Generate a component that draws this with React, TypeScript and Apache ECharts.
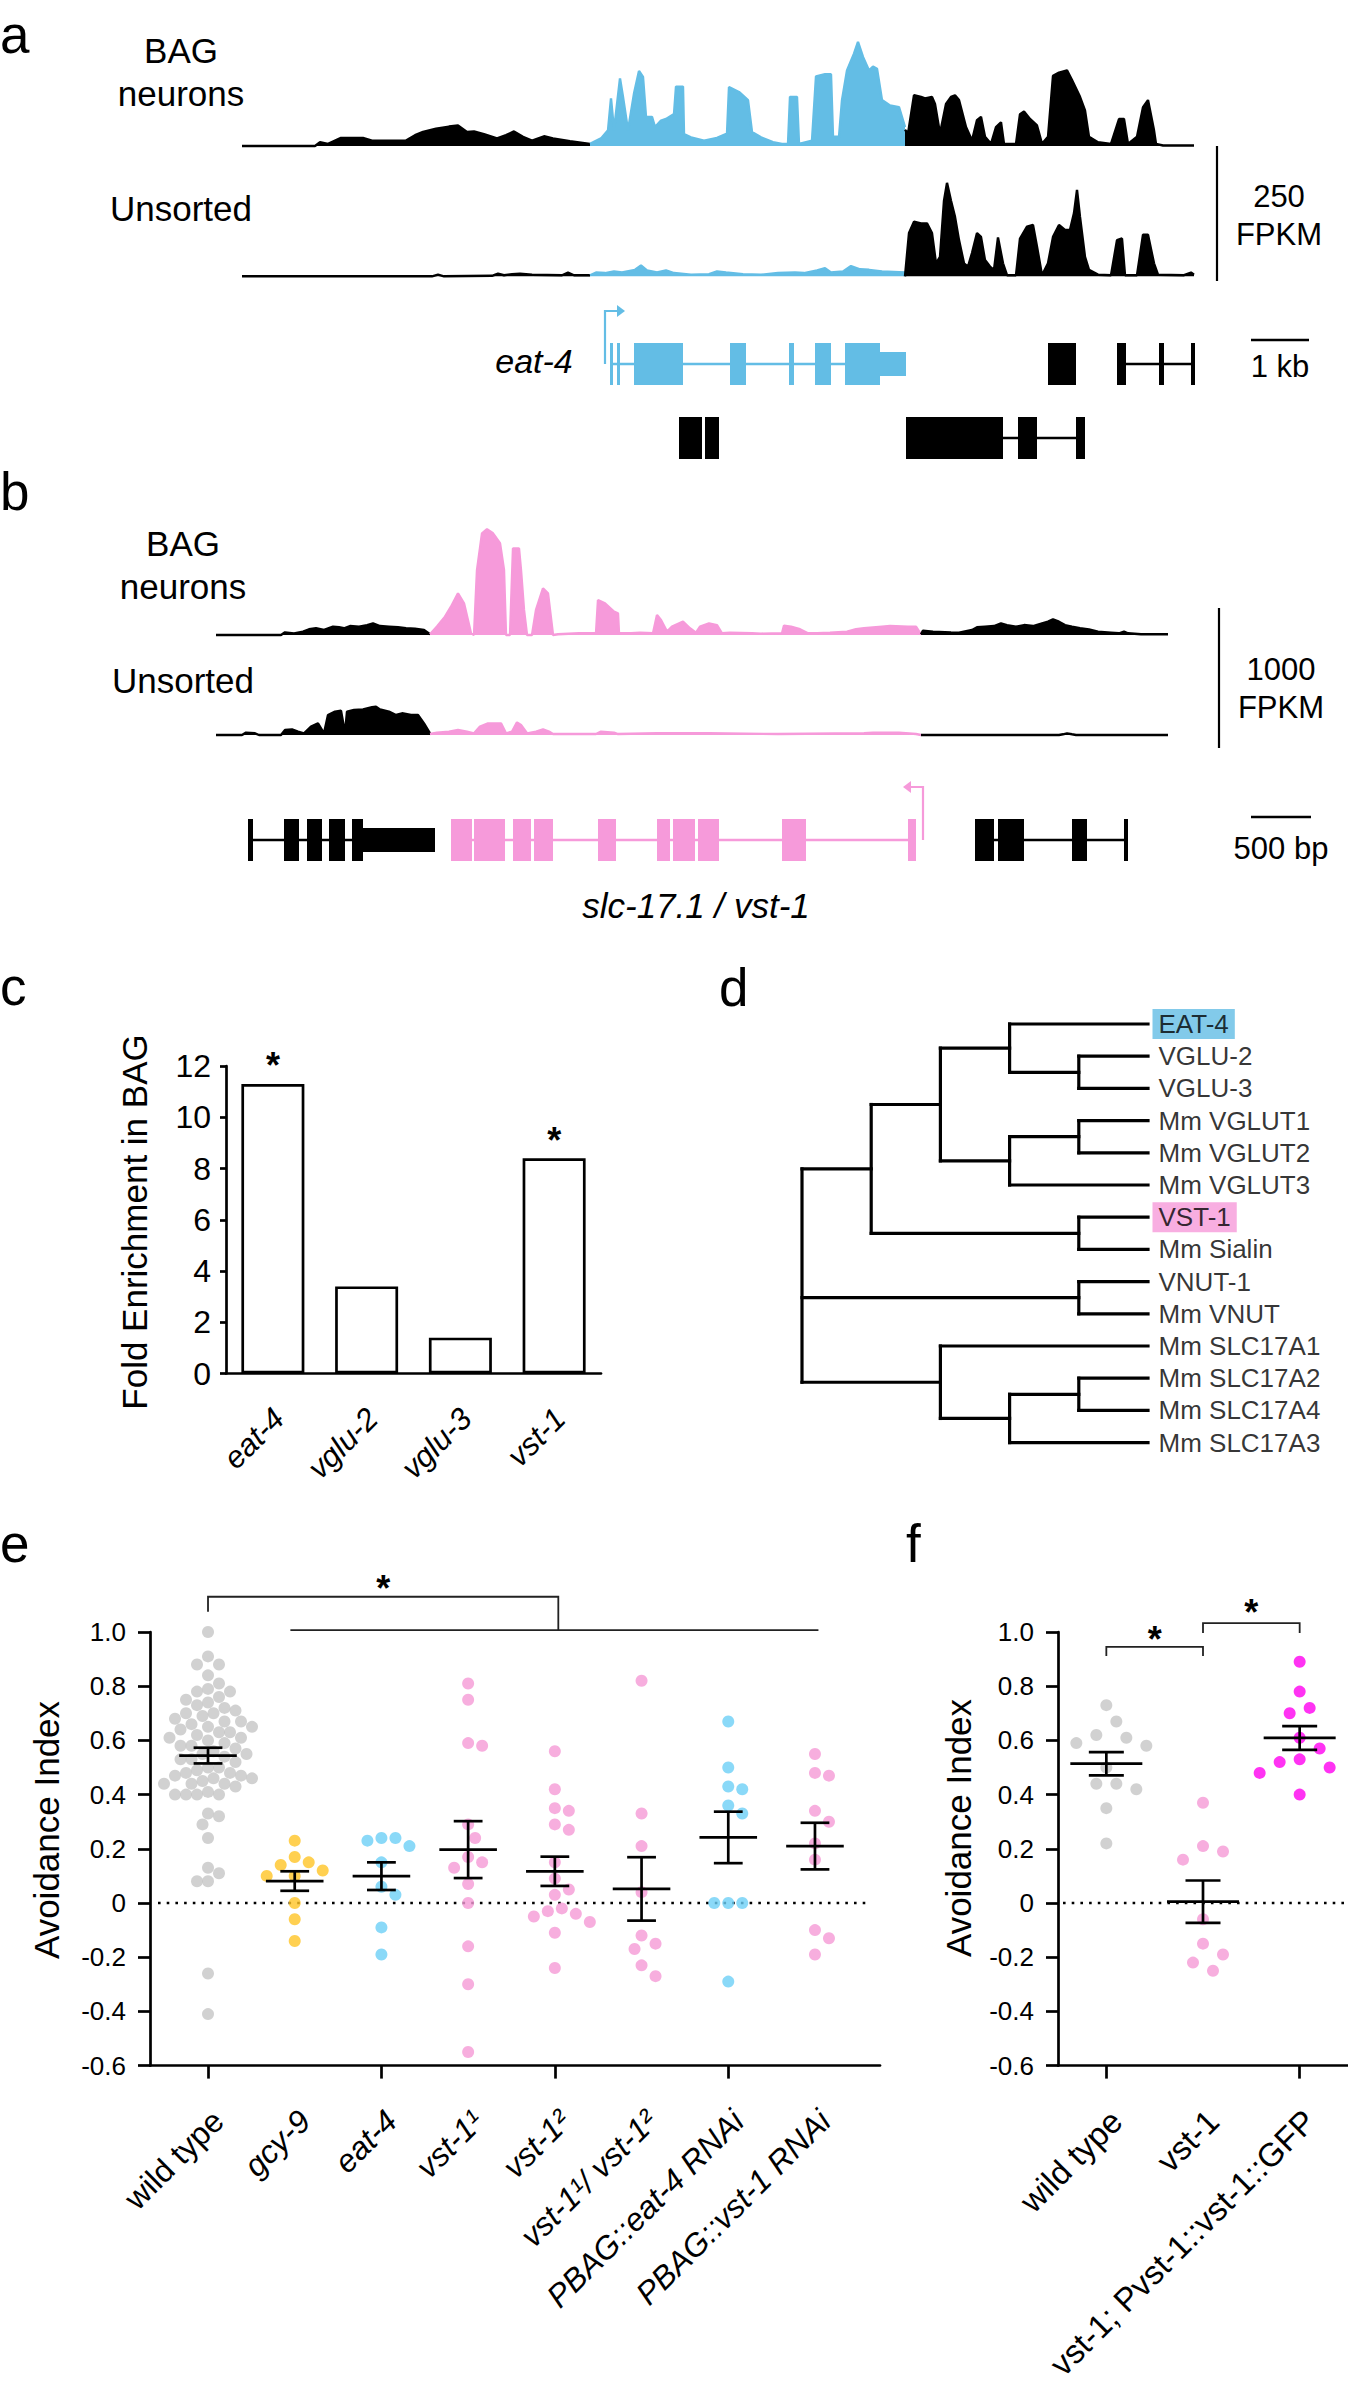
import React, { useEffect, useRef } from "react";
import * as echarts from "echarts";

const FONT = '"Liberation Sans", Arial, Helvetica, sans-serif';
const BLUE = "#63BDE5";
const PINK = "#F69ADA";
const DOT_GRAY = "#C6C6C6";
const DOT_YELLOW = "#FFC425";
const DOT_BLUE = "#6DCFF6";
const DOT_PINK = "#F59AD6";
const DOT_MAGENTA = "#FF00F0";

// ---------- Panel a : eat-4 locus coverage, [position (~17 bp bins), FPKM] ----------
const aBagLeft = [[0,0],[73,0],[78,7],[86,4],[99,15],[121,15],[130,10],[164,10],[173,20],[181,26],[194,32],[207,36],[216,38],[225,26],[232,27],[242,22],[255,14],[264,20],[272,27],[281,17],[290,10],[302,18],[311,14],[328,9],[348,4]];
const aBagEat4 = [[348,4],[359,14],[366,29],[369,88],[372,29],[378,125],[381,91],[386,29],[392,97],[397,139],[401,128],[404,54],[410,54],[413,35],[419,47],[424,50],[432,59],[434,110],[441,110],[442,22],[449,16],[462,10],[475,15],[485,23],[487,109],[497,100],[506,85],[510,26],[519,16],[531,7],[540,4],[546,4],[548,91],[555,91],[557,4],[570,10],[574,129],[583,133],[589,133],[591,17],[597,17],[600,85],[605,140],[612,171],[616,193],[621,165],[627,140],[631,147],[635,143],[640,85],[648,75],[657,72],[663,35]];
const aBagRight = [[663,30],[666,23],[672,94],[679,91],[683,88],[690,91],[693,78],[698,23],[704,78],[709,91],[713,94],[717,85],[724,35],[730,10],[735,48],[739,54],[743,17],[749,4],[754,35],[759,44],[762,4],[774,4],[778,59],[782,64],[788,50],[795,38],[800,4],[806,17],[811,130],[817,136],[825,140],[830,122],[838,91],[843,66],[847,17],[856,7],[869,4],[877,50],[882,50],[886,4],[895,17],[901,72],[906,85],[912,29],[914,4],[921,1],[952,1]];
const aUnsLeft = [[0,0],[190,0],[196,3],[202,0],[250,1],[256,5],[262,2],[270,4],[278,5],[290,3],[320,2],[326,7],[332,2],[348,2]];
const aUnsEat4 = [[348,2],[354,7],[363,6],[372,9],[380,7],[393,12],[399,20],[405,11],[415,7],[424,11],[432,6],[449,3],[467,4],[475,9],[484,7],[501,4],[519,3],[536,6],[553,7],[562,6],[575,11],[583,15],[589,7],[601,9],[609,19],[618,13],[627,12],[640,9],[663,7]];
const aUnsRight = [[663,0],[667,80],[672,101],[679,98],[685,98],[690,80],[694,24],[698,36],[702,140],[705,173],[709,140],[713,110],[717,67],[722,24],[726,18],[730,43],[735,80],[739,73],[743,30],[748,18],[752,12],[756,72],[761,24],[765,2],[774,2],[778,70],[785,92],[791,95],[795,55],[800,2],[806,24],[811,73],[817,95],[823,86],[828,86],[832,117],[835,160],[838,110],[843,36],[847,12],[856,3],[869,2],[875,67],[880,70],[883,2],[895,2],[901,77],[906,77],[912,24],[916,3],[942,2],[949,7],[952,3]];

// gene models a: [start, end, row, kind(0 coding,1 UTR)]
const aEat4Exons = [[368,371,0,0],[375,378,0,0],[392,441,0,0],[488,504,0,0],[547,552,0,0],[573,589,0,0],[603,638,0,0],[638,664,0,1]];
const aEat4Introns = [[368,664,0]];
const aEat4Tss = [[363,0,1]];
const aOtherExons = [[806,834,0,0],[875,884,0,0],[917,922,0,0],[949,953,0,0],[437,460,1,0],[463,477,1,0],[664,761,1,0],[776,795,1,0],[834,843,1,0]];
const aOtherIntrons = [[875,953,0],[761,843,1]];

// ---------- Panel b : slc-17.1 / vst-1 locus ----------
const bBagLeft = [[0,0],[65,0],[69,19],[78,12],[87,24],[93,41],[100,48],[108,36],[117,60],[123,55],[128,48],[134,64],[143,60],[151,71],[157,83],[164,64],[173,60],[182,55],[190,48],[199,45],[208,36],[214,5]];
const bBagVst1 = [[214,5],[221,60],[229,131],[235,202],[242,298],[248,226],[255,12],[258,0],[261,464],[266,726],[271,755],[277,726],[284,655],[288,464],[290,0],[294,0],[297,619],[303,619],[305,464],[308,179],[311,0],[316,0],[320,179],[327,333],[332,298],[337,0],[342,5],[363,12],[380,12],[382,250],[389,226],[398,167],[402,155],[403,12],[415,12],[424,17],[437,12],[441,143],[445,107],[451,24],[456,60],[467,95],[474,48],[480,17],[484,60],[493,83],[501,71],[506,12],[514,17],[536,12],[545,10],[566,12],[568,67],[575,60],[584,41],[592,12],[601,12],[614,17],[631,24],[640,41],[648,48],[666,60],[674,64],[692,60],[700,60],[705,5]];
const bBagRight = [[705,5],[707,31],[717,24],[735,19],[743,17],[756,36],[761,55],[769,60],[778,64],[785,83],[791,71],[800,60],[808,71],[817,64],[826,83],[832,95],[837,112],[843,95],[849,71],[856,60],[864,48],[873,40],[882,24],[895,17],[903,12],[908,24],[912,12],[925,5],[952,5]];
const bUnsLeft = [[0,0],[26,0],[30,17],[39,12],[43,0],[65,0],[69,36],[76,40],[82,24],[88,12],[95,60],[102,83],[108,12],[112,143],[119,167],[125,174],[129,12],[131,167],[138,179],[147,183],[156,198],[160,202],[164,183],[173,167],[180,143],[186,155],[195,143],[202,143],[208,83],[214,12]];
const bUnsVst1 = [[214,7],[221,17],[233,24],[242,36],[251,24],[258,12],[264,60],[272,83],[285,83],[290,12],[296,24],[301,90],[305,71],[311,12],[320,24],[327,40],[333,24],[337,7],[380,7],[385,24],[398,17],[402,7],[441,12],[467,12],[493,12],[562,7],[648,12],[657,17],[683,17],[700,7],[705,0]];
const bUnsRight = [[705,0],[843,0],[847,5],[851,12],[856,5],[860,0],[952,0]];

const bVst1Exons = [[235,256,0,0],[258,289,0,0],[297,315,0,0],[318,337,0,0],[382,400,0,0],[441,454,0,0],[457,479,0,0],[482,503,0,0],[566,590,0,0],[692,700,0,0]];
const bVst1Introns = [[235,700,0]];
const bVst1Tss = [[707,0,-1]];
const bOtherExons = [[32,37,0,0],[68,83,0,0],[91,106,0,0],[113,129,0,0],[136,147,0,0],[147,219,0,1],[759,778,0,0],[782,808,0,0],[856,871,0,0],[908,912,0,0]];
const bOtherIntrons = [[32,147,0],[759,912,0]];

// ---------- Panel c ----------
const cGenes = ["eat-4", "vglu-2", "vglu-3", "vst-1"];
const cFold = [11.3, 3.4, 1.4, 8.4];
const cSig = [true, false, false, true];

// ---------- Panel d ----------
const dLeaves = ["EAT-4","VGLU-2","VGLU-3","Mm VGLUT1","Mm VGLUT2","Mm VGLUT3","VST-1","Mm Sialin","VNUT-1","Mm VNUT","Mm SLC17A1","Mm SLC17A2","Mm SLC17A4","Mm SLC17A3"];
const dHighlight: Record<string, string> = { "EAT-4": BLUE, "VST-1": PINK };
const dTree: any = { lv: 0, kids: [
  { lv: 1, kids: [
    { lv: 2, kids: [
      { lv: 3, kids: [0, { lv: 4, kids: [1, 2] }] },
      { lv: 3, kids: [{ lv: 4, kids: [3, 4] }, 5] },
    ] },
    { lv: 4, kids: [6, 7] },
  ] },
  { lv: 4, kids: [8, 9] },
  { lv: 2, kids: [10, { lv: 3, kids: [{ lv: 4, kids: [11, 12] }, 13] }] },
] };

// ---------- Panel e ----------
const eGroups = ["wild type","gcy-9","eat-4","vst-1¹","vst-1²","vst-1¹/ vst-1²","PBAG::eat-4 RNAi","PBAG::vst-1 RNAi"];
const eItalic = [false, true, true, true, true, true, true, true];
const eWild = [1.00,0.91,0.88,0.88,0.84,0.81,0.79,0.78,0.78,0.76,0.75,0.74,0.73,0.72,0.71,0.70,0.70,0.69,0.68,0.67,0.67,0.66,0.65,0.65,0.64,0.63,0.63,0.62,0.61,0.61,0.60,0.59,0.58,0.58,0.57,0.56,0.55,0.55,0.54,0.53,0.53,0.52,0.50,0.50,0.49,0.48,0.48,0.47,0.47,0.46,0.46,0.45,0.44,0.44,0.44,0.43,0.41,0.40,0.40,0.40,0.40,0.33,0.32,0.29,0.24,0.13,0.11,0.08,0.08,-0.26,-0.41];
const eGcy9 = [0.23,0.17,0.15,0.14,0.12,0.10,0.10,0.00,-0.06,-0.14];
const eEat4 = [0.24,0.24,0.23,0.21,0.15,0.06,0.03,-0.09,-0.19];
const eVst1a = [0.81,0.75,0.59,0.58,0.29,0.24,0.17,0.15,0.13,0.07,0.00,-0.16,-0.30,-0.55];
const eVst1b = [0.56,0.42,0.35,0.34,0.29,0.27,0.15,0.09,0.05,0.03,-0.02,-0.03,-0.04,-0.05,-0.07,-0.11,-0.24];
const eTrans = [0.82,0.33,0.21,0.04,-0.12,-0.15,-0.17,-0.23,-0.27];
const eRnaiEat4 = [0.67,0.50,0.43,0.42,0.36,0.33,0.00,0.00,0.00,-0.29];
const eRnaiVst1 = [0.55,0.48,0.47,0.34,0.30,0.22,0.16,-0.10,-0.13,-0.19];
const eMean = [0.544,0.081,0.099,0.197,0.117,0.052,0.242,0.210];
const eSem = [0.029,0.036,0.051,0.105,0.054,0.117,0.095,0.086];
const eColors = [DOT_GRAY, DOT_YELLOW, DOT_BLUE, DOT_PINK, DOT_PINK, DOT_PINK, DOT_BLUE, DOT_PINK];

// ---------- Panel f ----------
const fGroups = ["wild type", "vst-1", "vst-1; Pvst-1::vst-1::GFP"];
const fItalic = [false, false, false];
const fWild = [0.73,0.67,0.62,0.61,0.59,0.58,0.50,0.44,0.44,0.42,0.35,0.22];
const fVst1 = [0.37,0.21,0.19,0.16,-0.06,-0.15,-0.19,-0.22,-0.25];
const fRescue = [0.89,0.78,0.72,0.70,0.61,0.57,0.53,0.52,0.50,0.48,0.40];
const fMean = [0.514,0.005,0.609];
const fSem = [0.043,0.078,0.044];
const fColors = [DOT_GRAY, DOT_PINK, DOT_MAGENTA];

// layout constants
const E_LEFT = 150, E_W = 730, E_XMIN = -0.669, E_XMAX = 7.75;
const PLOT_TOP = 1632, PLOT_H = 433.6;
const F_LEFT = 1058, F_W = 290;
const Y_PX = PLOT_H / 1.6;

function swarm(vals: number[], minDist: number, step: number) {
  const order = vals.map((_, i) => i).sort((a, b) => vals[b] - vals[a]);
  const placed: number[][] = [];
  const offs = vals.map(() => 0);
  for (const i of order) {
    const y = vals[i] * Y_PX;
    for (let k = 0; k < 400; k++) {
      const c = k === 0 ? 0 : (k % 2 === 1 ? 1 : -1) * Math.ceil(k / 2) * step;
      if (placed.every((p) => Math.hypot(p[0] - c, p[1] - y) >= minDist)) {
        offs[i] = c; placed.push([c, y]); break;
      }
    }
  }
  return offs;
}

function dotSeries(groups: number[][], colors: string[], pxPerUnit: number, minD: number[], steps: number[], xi: number, yi: number) {
  const data: any[] = [];
  groups.forEach((vals, g) => {
    const offs = swarm(vals, minD[g], steps[g]);
    vals.forEach((v, k) => data.push({ value: [g + offs[k] / pxPerUnit, v], itemStyle: { color: colors[g] } }));
  });
  return { type: "scatter", xAxisIndex: xi, yAxisIndex: yi, data, symbolSize: 12, z: 3, silent: true };
}

function errSeries(mean: number[], sem: number[], hw: number, cw: number, xi: number, yi: number) {
  return {
    type: "custom", xAxisIndex: xi, yAxisIndex: yi, z: 5, silent: true, clip: false,
    data: mean.map((m, i) => [i, m, sem[i]]),
    renderItem: (_p: any, api: any) => {
      const c = api.coord([api.value(0), api.value(1)]);
      const t = api.coord([api.value(0), api.value(1) + api.value(2)]);
      const b = api.coord([api.value(0), api.value(1) - api.value(2)]);
      const st = { stroke: "#000", lineWidth: 2.7 };
      return { type: "group", children: [
        { type: "line", shape: { x1: c[0] - hw, y1: c[1], x2: c[0] + hw, y2: c[1] }, style: st },
        { type: "line", shape: { x1: c[0], y1: t[1], x2: c[0], y2: b[1] }, style: st },
        { type: "line", shape: { x1: c[0] - cw, y1: t[1], x2: c[0] + cw, y2: t[1] }, style: st },
        { type: "line", shape: { x1: c[0] - cw, y1: b[1], x2: c[0] + cw, y2: b[1] }, style: st },
      ] };
    },
  };
}

function zeroLine(xi: number, yi: number, padL: number, padR: number) {
  return {
    type: "custom", xAxisIndex: xi, yAxisIndex: yi, z: 1, silent: true, data: [[0, 0]],
    renderItem: (p: any, api: any) => {
      const cs = p.coordSys;
      const y = api.coord([0, 0])[1];
      return { type: "line", shape: { x1: cs.x + padL, y1: y, x2: cs.x + cs.width - padR, y2: y },
        style: { stroke: "#000", lineWidth: 2.6, lineDash: [2.6, 6.1] } };
    },
  };
}

// rotated category labels, anchored below each category position
function rotLabels(names: string[], italic: boolean[], xi: number, yi: number, yBase: number, dx: number, dy: number, size: number) {
  return {
    type: "custom", xAxisIndex: xi, yAxisIndex: yi, silent: true, clip: false, z: 6,
    data: names.map((_, i) => [i, yBase]),
    renderItem: (p: any, api: any) => {
      const i = p.dataIndex;
      const c = api.coord([api.value(0), api.value(1)]);
      return { type: "text", x: c[0] + dx, y: c[1] + dy, rotation: Math.PI / 4,
        style: { text: names[i], font: `${italic[i] ? "italic " : ""}${size}px ${FONT}`, fill: "#000",
          align: "right", verticalAlign: "middle", textAlign: "right", textVerticalAlign: "middle" } };
    },
  };
}

// brackets: [x1, x2, yTop, yDropLeft, yDropRight]
const eBrackets = [[0, 4.04, 1.13, 1.075, 1.007], [0.95, 7.04, 1.007, 1.007, 1.007]];
const eStars = [[2.02, 1.185]];
const fBrackets = [[0, 1, 0.945, 0.911, 0.911], [1, 2, 1.033, 0.996, 0.996]];
const fStars = [[0.5, 1.0], [1.5, 1.096]];

function bracketSeries(br: number[][], stars: number[][], xi: number, yi: number) {
  return [
    {
      type: "custom", xAxisIndex: xi, yAxisIndex: yi, silent: true, clip: false, z: 4, data: br,
      renderItem: (_p: any, api: any) => {
        const a = api.coord([api.value(0), api.value(2)]);
        const b = api.coord([api.value(1), api.value(2)]);
        const dl = api.coord([api.value(0), api.value(3)]);
        const dr = api.coord([api.value(1), api.value(4)]);
        return { type: "polyline", shape: { points: [[a[0], dl[1]], a, b, [b[0], dr[1]]] },
          style: { stroke: "#222", lineWidth: 1.8, fill: null } };
      },
    },
    {
      type: "custom", xAxisIndex: xi, yAxisIndex: yi, silent: true, clip: false, z: 4, data: stars,
      renderItem: (_p: any, api: any) => {
        const c = api.coord([api.value(0), api.value(1)]);
        return { type: "text", x: c[0], y: c[1] + 7, style: { text: "*", font: `bold 36px ${FONT}`, fill: "#000", align: "center", verticalAlign: "middle", textAlign: "center", textVerticalAlign: "middle" } };
      },
    },
  ];
}

function track(data: number[][], color: string, gi: number) {
  return { type: "line", xAxisIndex: gi, yAxisIndex: gi, data, symbol: "none", showSymbol: false, silent: true, clip: false,
    lineStyle: { color, width: 2.4 }, itemStyle: { color }, areaStyle: { color, opacity: 1 }, z: 2 };
}

function exons(data: number[][], color: string, gi: number) {
  return { type: "custom", xAxisIndex: gi, yAxisIndex: gi, data, silent: true, clip: false, z: 3,
    renderItem: (_p: any, api: any) => {
      const r = api.value(2) + 0.5;
      const s = api.coord([api.value(0), r]);
      const e = api.coord([api.value(1), r]);
      const h = api.value(3) === 1 ? 24 : 42;
      return { type: "rect", shape: { x: s[0], y: s[1] - h / 2, width: Math.max(e[0] - s[0], 2.5), height: h }, style: { fill: color } };
    } };
}
function introns(data: number[][], color: string, gi: number) {
  return { type: "custom", xAxisIndex: gi, yAxisIndex: gi, data, silent: true, clip: false, z: 2,
    renderItem: (_p: any, api: any) => {
      const r = api.value(2) + 0.5;
      const s = api.coord([api.value(0), r]);
      const e = api.coord([api.value(1), r]);
      return { type: "line", shape: { x1: s[0], y1: s[1], x2: e[0], y2: e[1] }, style: { stroke: color, lineWidth: 2.5 } };
    } };
}
function tss(data: number[][], color: string, gi: number) {
  return { type: "custom", xAxisIndex: gi, yAxisIndex: gi, data, silent: true, clip: false, z: 3,
    renderItem: (_p: any, api: any) => {
      const p = api.coord([api.value(0), api.value(1) + 0.5]);
      const d = api.value(2);
      const top = p[1] - 53;
      const hx = p[0] + 12 * d;
      return { type: "group", children: [
        { type: "polyline", shape: { points: [[p[0], p[1]], [p[0], top], [hx, top]] }, style: { stroke: color, lineWidth: 2.2, fill: null } },
        { type: "polygon", shape: { points: [[hx, top - 6], [hx + 8 * d, top], [hx, top + 6]] }, style: { fill: color } },
      ] };
    } };
}

function treeSegs(node: any, segs: number[][]): number {
  if (typeof node === "number") return node;
  const ys = node.kids.map((k: any) => treeSegs(k, segs));
  node.kids.forEach((k: any, i: number) => {
    const lv = typeof k === "number" ? 5 : k.lv;
    segs.push([node.lv, ys[i], lv, ys[i]]);
  });
  segs.push([node.lv, ys[0], node.lv, ys[ys.length - 1]]);
  return (ys[0] + ys[ys.length - 1]) / 2;
}

const yFmt = (v: number) => (Math.abs(v) < 1e-9 ? "0" : v.toFixed(1));

function T(text: string, x: number, y: number, size: number, o: any = {}) {
  const font = `${o.italic ? "italic " : ""}${o.bold ? "bold " : ""}${size}px ${FONT}`;
  const align = o.align || "center";
  const style: any = { text, font, fill: "#000", align, verticalAlign: "middle", textAlign: align, textVerticalAlign: "middle" };
  return { type: "text", x, y, rotation: o.rot || 0, silent: true, style };
}
function L(x1: number, y1: number, x2: number, y2: number, w = 2.2) {
  return { type: "line", silent: true, shape: { x1, y1, x2, y2 }, style: { stroke: "#000", lineWidth: w } };
}

function hiddenX(gi: number, min: number, max: number, extra: any = {}) {
  return { type: "value", gridIndex: gi, min, max, show: false, ...extra };
}
function hiddenY(gi: number, min: number, max: number, inverse = false) {
  return { type: "value", gridIndex: gi, min, max, show: false, inverse };
}
const AX = { color: "#000", width: 2.7 };
function avoidY(gi: number) {
  return { type: "value", gridIndex: gi, min: -0.6, max: 1.0, interval: 0.2,
    axisLine: { show: true, onZero: false, lineStyle: AX },
    axisTick: { show: true, length: 12, lineStyle: AX },
    axisLabel: { fontSize: 26, color: "#000", margin: 24, fontFamily: FONT, formatter: yFmt },
    splitLine: { show: false } };
}

function buildOption() {
  const segs: number[][] = [];
  treeSegs(dTree, segs);
  const ePx = E_W / (E_XMAX - E_XMIN);
  const fPx = F_W / 3;

  const series: any[] = [
    track(aBagLeft, "#000", 0), track(aBagEat4, BLUE, 0), track(aBagRight, "#000", 0),
    track(aUnsLeft, "#000", 1), track(aUnsEat4, BLUE, 1), track(aUnsRight, "#000", 1),
    introns(aEat4Introns, BLUE, 2), exons(aEat4Exons, BLUE, 2), tss(aEat4Tss, BLUE, 2),
    introns(aOtherIntrons, "#000", 2), exons(aOtherExons, "#000", 2),
    track(bBagLeft, "#000", 3), track(bBagVst1, PINK, 3), track(bBagRight, "#000", 3),
    track(bUnsLeft, "#000", 4), track(bUnsVst1, PINK, 4), track(bUnsRight, "#000", 4),
    introns(bVst1Introns, PINK, 5), exons(bVst1Exons, PINK, 5), tss(bVst1Tss, PINK, 5),
    introns(bOtherIntrons, "#000", 5), exons(bOtherExons, "#000", 5),
    {
      type: "bar", xAxisIndex: 6, yAxisIndex: 6, barWidth: 63, silent: true,
      itemStyle: { color: "#fff", borderColor: "#000", borderWidth: 2.7 },
      data: cFold.map((v, i) => ({ value: v, label: { show: cSig[i], position: "top", distance: 0, formatter: "*", fontSize: 36, fontWeight: "bold", color: "#000", fontFamily: FONT } })),
    },
    rotLabels(cGenes, cGenes.map(() => true), 6, 6, 0, 6, 40, 31),
    {
      type: "custom", xAxisIndex: 7, yAxisIndex: 7, silent: true, clip: false, data: segs,
      renderItem: (_p: any, api: any) => {
        const a = api.coord([api.value(0), api.value(1)]);
        const b = api.coord([api.value(2), api.value(3)]);
        return { type: "line", shape: { x1: a[0], y1: a[1], x2: b[0], y2: b[1] }, style: { stroke: "#000", lineWidth: 3.2, lineCap: "square" } };
      },
    },
    {
      type: "scatter", xAxisIndex: 7, yAxisIndex: 7, silent: true, symbolSize: 1, itemStyle: { color: "rgba(0,0,0,0)" },
      label: { show: true, position: "right", distance: 4, formatter: "{b}", fontSize: 26, color: "#000", fontFamily: FONT, padding: [3, 6, 1, 6] },
      data: dLeaves.map((n, i) => ({ name: n, value: [5, i], label: dHighlight[n] ? { backgroundColor: dHighlight[n] } : {} })),
    },
    zeroLine(8, 8, 8, 10),
    dotSeries([eWild, eGcy9, eEat4, eVst1a, eVst1b, eTrans, eRnaiEat4, eRnaiVst1], eColors, ePx,
      [11, 14, 14, 14, 14, 14, 14, 14], [5.5, 7, 7, 7, 7, 7, 7, 7], 8, 8),
    errSeries(eMean, eSem, 28.8, 14.4, 8, 8),
    ...bracketSeries(eBrackets, eStars, 8, 8),
    rotLabels(eGroups, eItalic, 9, 9, -0.6, 10, 50, 32),
    zeroLine(10, 10, 5, 0),
    dotSeries([fWild, fVst1, fRescue], fColors, fPx, [19, 19, 19], [10, 10, 10], 10, 10),
    errSeries(fMean, fSem, 36, 17.5, 10, 10),
    ...bracketSeries(fBrackets, fStars, 10, 10),
    rotLabels(fGroups, fItalic, 10, 10, -0.6, 10, 50, 33),
  ];

  const graphic: any[] = [
    T("a", 0, 34, 53, { align: "left" }),
    T("b", 0, 491.5, 53, { align: "left" }),
    T("c", 0, 986.5, 53, { align: "left" }),
    T("d", 719, 987.5, 53, { align: "left" }),
    T("e", 0, 1543.5, 53, { align: "left" }),
    T("f", 906, 1543.5, 53, { align: "left" }),
    T("BAG", 181, 50, 35), T("neurons", 181, 93, 35), T("Unsorted", 181, 208, 35),
    T("BAG", 183, 543, 35), T("neurons", 183, 586, 35), T("Unsorted", 183, 680, 35),
    T("250", 1279, 196, 31), T("FPKM", 1279, 234, 31), T("1 kb", 1280, 366, 31),
    T("1000", 1281, 669, 31), T("FPKM", 1281, 707, 31), T("500 bp", 1281, 848, 31),
    T("eat-4", 534, 361, 34, { italic: true }),
    T("slc-17.1 / vst-1", 696, 905, 35, { italic: true }),
    L(1217, 146, 1217, 281), L(1251, 340, 1309, 340, 2.6),
    L(1219, 608, 1219, 748), L(1251, 817, 1311, 817, 2.6),
    T("Fold Enrichment in BAG", 134.6, 1222, 35, { rot: Math.PI / 2 }),
    T("Avoidance Index", 46, 1830, 35, { rot: Math.PI / 2 }),
    T("Avoidance Index", 958.5, 1828, 35, { rot: Math.PI / 2 }),
  ];

  return {
    animation: false,
    backgroundColor: "#fff",
    textStyle: { fontFamily: FONT },
    grid: [
      { left: 242, top: 11, width: 952.5, height: 135 },
      { left: 242, top: 141.3, width: 952.5, height: 135 },
      { left: 242, top: 327, width: 952.5, height: 148 },
      { left: 216, top: 495, width: 952.5, height: 140 },
      { left: 216, top: 595, width: 952.5, height: 140 },
      { left: 216, top: 800, width: 952.5, height: 80 },
      { left: 226, top: 1066, width: 375, height: 307.5 },
      { left: 802, top: 1024, width: 346, height: 418.6 },
      { left: E_LEFT, top: PLOT_TOP, width: E_W, height: PLOT_H },
      { left: 208 - 86.71 / 2, top: PLOT_TOP, width: 8 * 86.71, height: PLOT_H },
      { left: F_LEFT, top: PLOT_TOP, width: F_W, height: PLOT_H },
    ],
    xAxis: [
      hiddenX(0, 0, 952.5), hiddenX(1, 0, 952.5), hiddenX(2, 0, 952.5),
      hiddenX(3, 0, 952.5), hiddenX(4, 0, 952.5), hiddenX(5, 0, 952.5),
      {
        type: "category", gridIndex: 6, data: cGenes,
        axisLine: { show: true, onZero: false, lineStyle: AX }, axisTick: { show: false }, axisLabel: { show: false },
      },
      hiddenX(7, 0, 5),
      {
        type: "value", gridIndex: 8, min: E_XMIN, max: E_XMAX,
        axisLine: { show: true, onZero: false, lineStyle: AX }, axisTick: { show: false }, axisLabel: { show: false }, splitLine: { show: false },
      },
      {
        type: "category", gridIndex: 9, data: eGroups,
        axisLine: { show: false, onZero: false }, axisTick: { show: true, alignWithLabel: true, length: 13, lineStyle: AX },
        axisLabel: { show: false },
      },
      hiddenX(10, -0.5, 2.5, { position: "top" }),
      {
        type: "category", gridIndex: 10, position: "bottom", data: fGroups,
        axisLine: { show: true, onZero: false, lineStyle: AX }, axisTick: { show: true, alignWithLabel: true, length: 13, lineStyle: AX },
        axisLabel: { show: false },
      },
    ],
    yAxis: [
      hiddenY(0, 0, 250), hiddenY(1, 0, 250), hiddenY(2, 0, 2, true),
      hiddenY(3, 0, 1000), hiddenY(4, 0, 1000), hiddenY(5, 0, 1, true),
      {
        type: "value", gridIndex: 6, min: 0, max: 12, interval: 2,
        axisLine: { show: true, onZero: false, lineStyle: AX }, axisTick: { show: true, length: 6, lineStyle: AX },
        axisLabel: { fontSize: 32, color: "#000", margin: 15, fontFamily: FONT }, splitLine: { show: false },
      },
      hiddenY(7, 0, 13, true),
      avoidY(8),
      hiddenY(9, -0.6, 1.0),
      avoidY(10),
    ],
    series,
    graphic,
  };
}

export default function App() {
  const ref = useRef<HTMLDivElement>(null);
  useEffect(() => {
    document.body.style.margin = "0";
    const chart = echarts.init(ref.current as HTMLDivElement, null, { renderer: "svg" });
    chart.setOption(buildOption() as any);
    return () => chart.dispose();
  }, []);
  return <div ref={ref} style={{ position: "absolute", left: 0, top: 0, width: 1348, height: 2391, background: "#fff" }} />;
}
